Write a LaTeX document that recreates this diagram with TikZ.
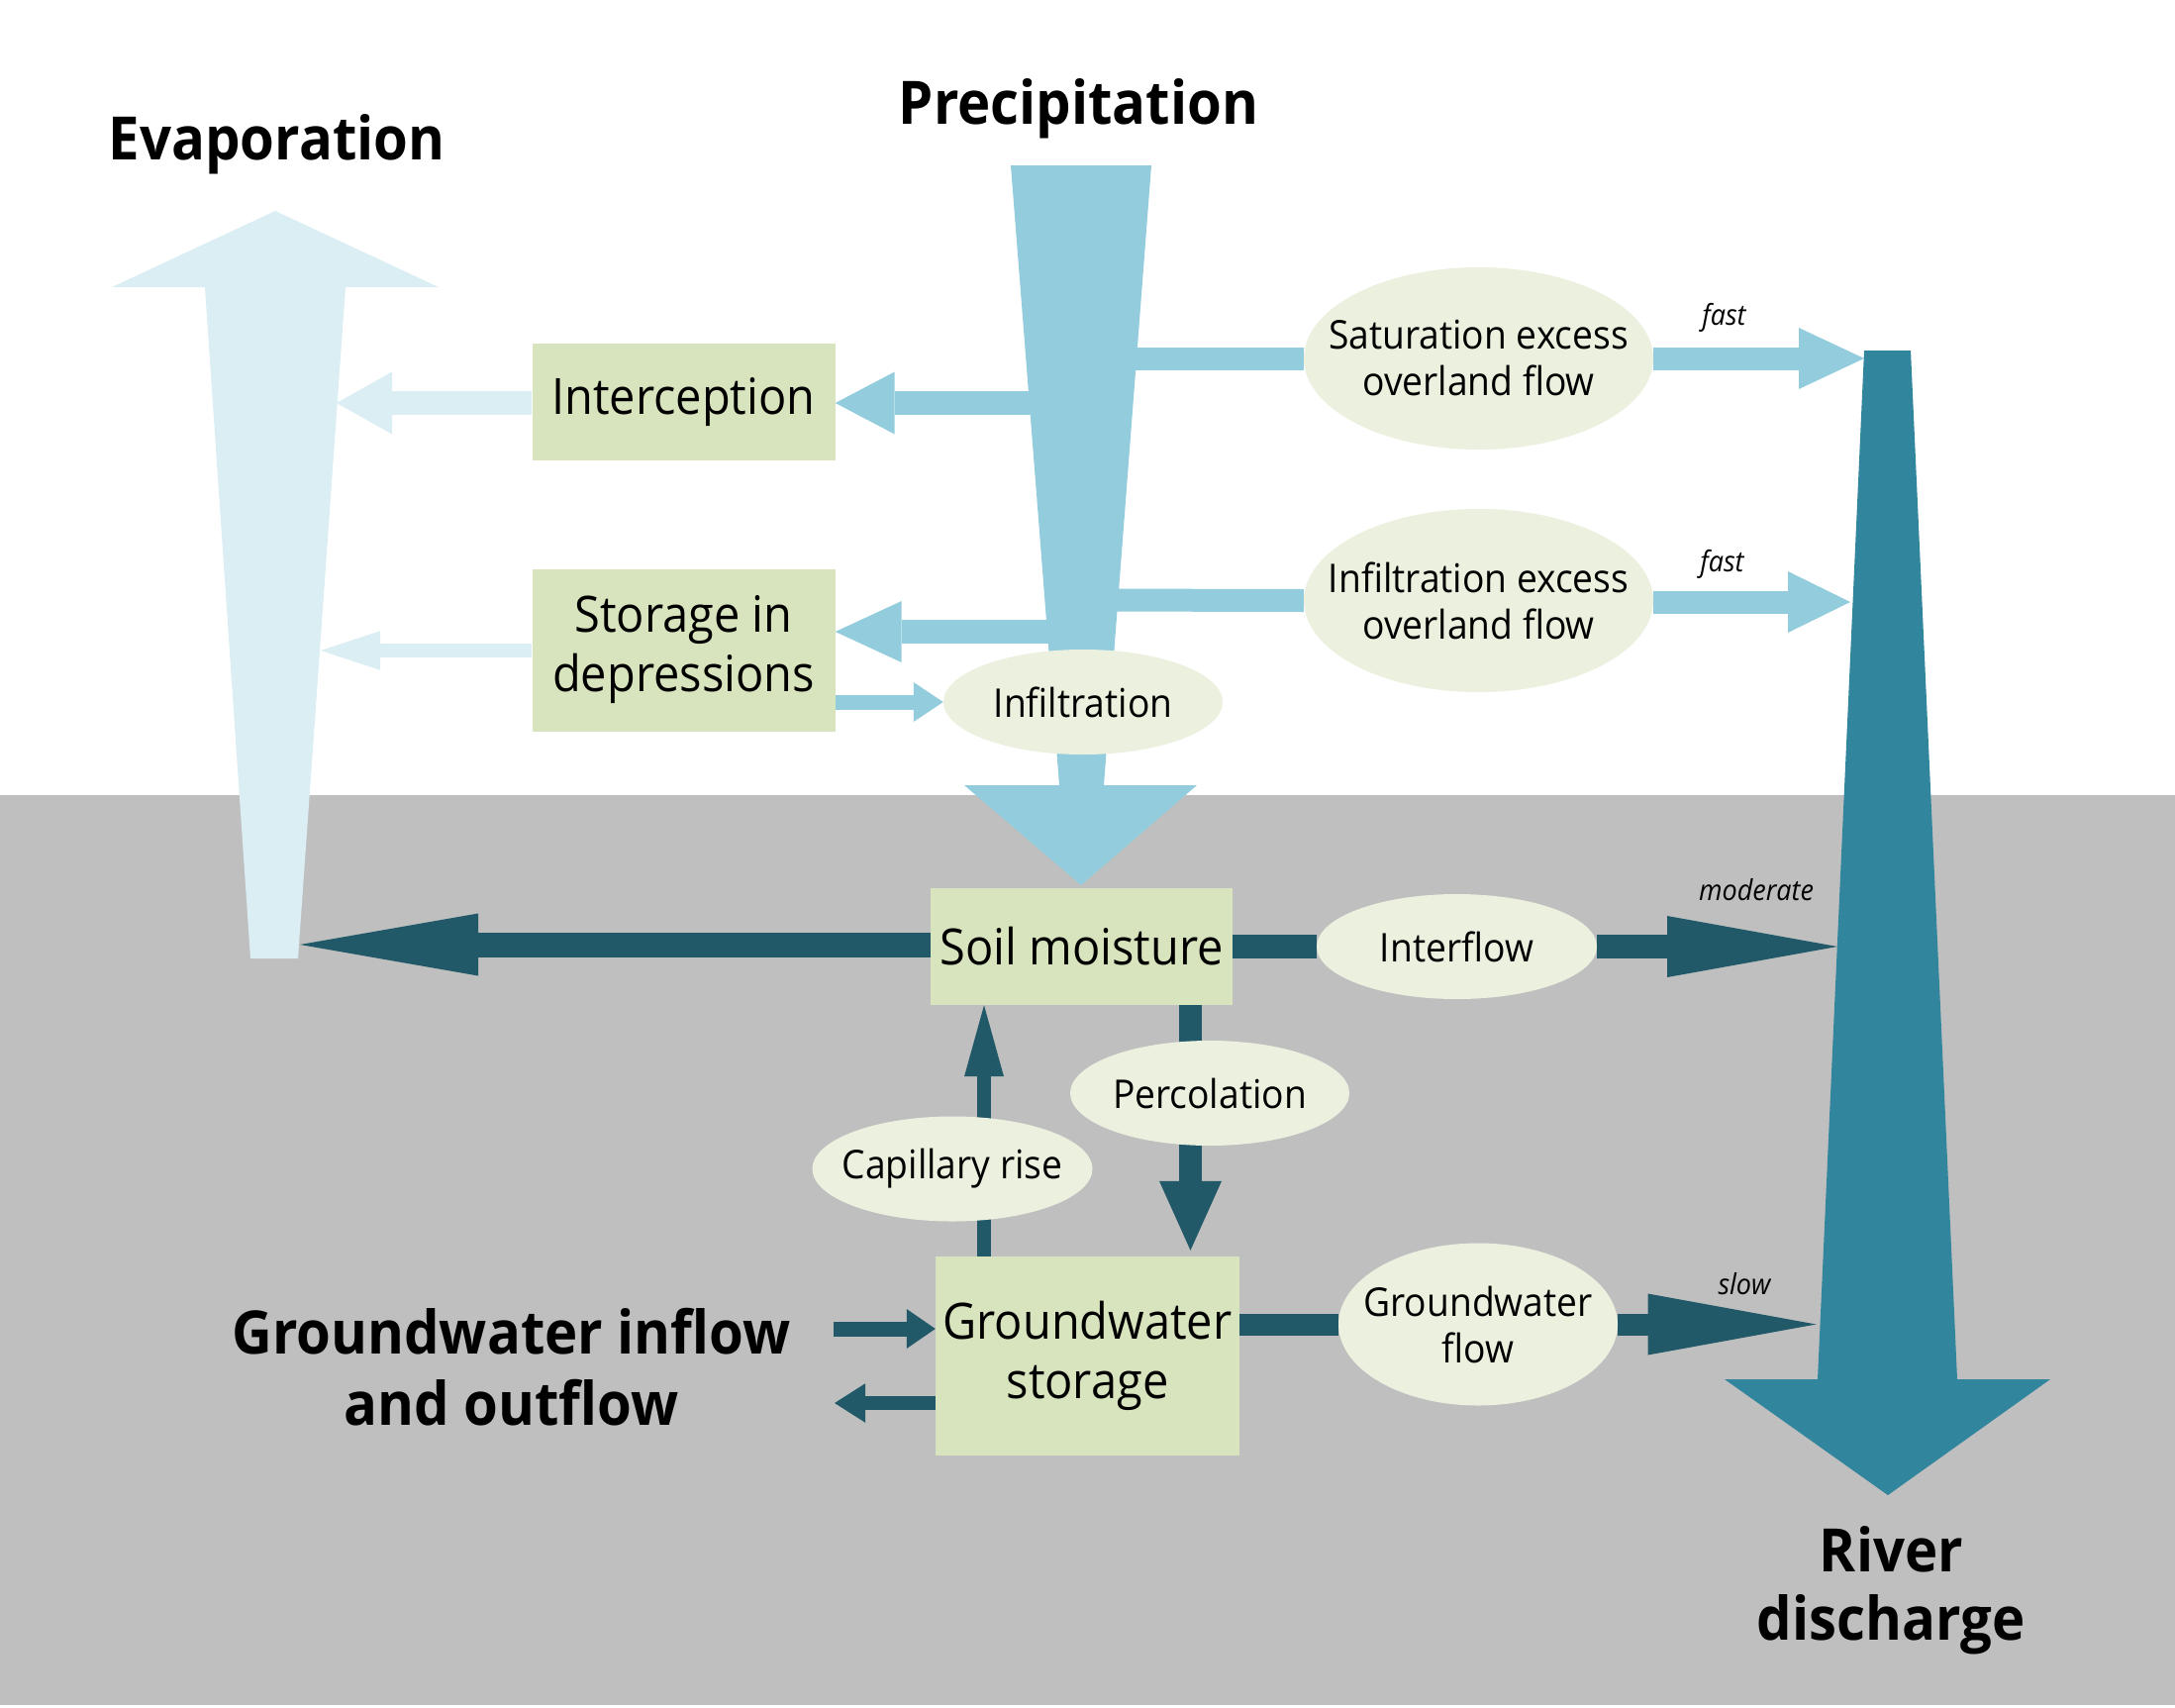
\documentclass[tikz,border=0pt]{standalone}
\usepackage{fontspec}
\setmainfont[FakeStretch=0.93]{Open Sans}
\usetikzlibrary{arrows.meta,shapes.geometric}
\definecolor{groundc}{HTML}{BFBFBF}
\definecolor{evapc}{HTML}{DAEEF3}
\definecolor{precc}{HTML}{93CDDD}
\definecolor{riverc}{HTML}{31859C}
\definecolor{darkc}{HTML}{215968}
\definecolor{boxc}{HTML}{D7E4BD}
\definecolor{ellc}{HTML}{EBF1DE}
\newcommand\myTitle{\bfseries\fontsize{60.5}{72}\selectfont}
\newcommand\myBox{\fontsize{50.5}{60}\selectfont}
\newcommand\myEll{\fontsize{40}{47}\selectfont}
\newcommand\mySmall{\itshape\fontsize{29}{35}\selectfont}
\pgfdeclarelayer{back}
\pgfdeclarelayer{flow}
\pgfsetlayers{back,flow,main}
\tikzset{
  boxnode/.style={rectangle, fill=boxc, inner sep=0pt, font=\myBox, align=center},
  ellnode/.style={ellipse, fill=ellc, inner sep=0pt},
  elltext/.style={font=\myEll, align=center},
  title/.style={font=\myTitle, anchor=base},
  speed/.style={font=\mySmall, anchor=base},
  pflow/.style={draw=precc},
  eflow/.style={draw=evapc},
  dflow/.style={draw=darkc},
}
\newcommand\tip[2]{-{Triangle[length=#1pt,width=#2pt,line width=0pt]}}
\begin{document}
\begin{tikzpicture}[x=1pt,y=-1pt]
\useasboundingbox (0,0) rectangle (2197,1724);
\begin{pgfonlayer}{back}
  \fill[white] (0,0) rectangle (2197,1724);
  \fill[groundc] (0,803) rectangle (2197,1722);
\end{pgfonlayer}

% titles
\node[title] (tEvap) at (279.5,161) {Evaporation};
\node[title] (tPrec) at (1089.5,125) {Precipitation};
\node[title] (tGw1) at (516.6,1367) {Groundwater inflow};
\node[title] (tGw2) at (516.6,1439) {and outflow};
\node[title] (tRiv1) at (1910.5,1587) {River};
\node[title] (tRiv2) at (1910,1656) {discharge};

% boxes
\node[boxnode, minimum width=306pt, minimum height=118pt] (intc) at (690.5,406) {Interception};
\node[boxnode, minimum width=306pt, minimum height=164pt] (stor) at (690.5,656.5) {Storage in\\depressions};
\node[boxnode, minimum width=305pt, minimum height=118pt] (soil) at (1092.5,956) {Soil moisture};
\node[boxnode, minimum width=307pt, minimum height=201pt] (gw) at (1098.5,1369.5) {Groundwater\\storage};

% ellipses
\node[ellnode, minimum width=282pt, minimum height=106pt, label={[elltext]center:Infiltration}] (infil) at (1094,709) {};
\node[ellnode, minimum width=353pt, minimum height=184pt, label={[elltext]center:Saturation excess\\overland flow}] (sat) at (1493.5,362) {};
\node[ellnode, minimum width=353pt, minimum height=185pt, label={[elltext]center:Infiltration excess\\overland flow}] (infx) at (1493.5,606.5) {};
\node[ellnode, minimum width=283pt, minimum height=106pt, label={[elltext]center:Interflow}] (inter) at (1471.5,956) {};
\node[ellnode, minimum width=282pt, minimum height=106pt, label={[elltext]center:Percolation}] (perc) at (1222,1104) {};
\node[ellnode, minimum width=283pt, minimum height=106pt, label={[elltext]center:Capillary rise}] (cap) at (962,1180.5) {};
\node[ellnode, minimum width=282pt, minimum height=164pt, label={[elltext]center:Groundwater\\flow}] (gwf) at (1493,1337.5) {};

% speed labels
\node[speed] (lf1) at (1741.5,328) {fast};
\node[speed] (lf2) at (1739.5,577) {fast};
\node[speed] (lmod) at (1774,909) {moderate};
\node[speed] (lslow) at (1762,1307) {slow};

% free ends
\coordinate (pI) at (1100,407);
\coordinate (pS) at (1100,638);
\coordinate (pSat) at (1120,362);
\coordinate (pInf) at (1100,606);
\coordinate (rSat) at (1883,362);
\coordinate (rInf) at (1869,608);
\coordinate (eI) at (340,407);
\coordinate (eS) at (324,657);
\coordinate (eSoil) at (303,954);
\coordinate (rSoil) at (1856,956);
\coordinate (rGw) at (1834.5,1337.5);
\coordinate (gin) at (842,1342);
\coordinate (gout) at (843,1417);
\coordinate (pcx) at (1202.5,0);
\coordinate (cpx) at (994,0);

\begin{pgfonlayer}{flow}
  % big funnels
  \fill[evapc] (253,968) -- (207,290) -- (113,290) -- (278,213) -- (443,290) -- (349,290) -- (301,968) -- cycle;
  \fill[precc] (1021,167) -- (1163,167) -- (1115,793) -- (1209,793) -- (1092,894) -- (974,793) -- (1070,793) -- cycle;
  \fill[riverc] (1883,354) -- (1930,354) -- (1977,1393) -- (2071,1393) -- (1907,1510) -- (1742,1393) -- (1836,1393) -- cycle;

  % precipitation branches
  \draw[pflow, line width=24pt, \tip{60}{63}] (pI) -- (intc.east |- pI);
  \draw[pflow, line width=24pt, \tip{67}{62}] (pS) -- (stor.east |- pS);
  \draw[pflow, line width=15pt, \tip{30}{40}] (stor.east |- infil.west) -- (infil.west);
  \draw[pflow, line width=23pt] (pSat) -- (sat.west);
  \draw[pflow, line width=23pt, \tip{66}{62}] (sat.east) -- (rSat);
  \draw[pflow, line width=23pt] (pInf) -- (infx.west);
  \draw[pflow, line width=23pt, \tip{63}{62}] (infx.east |- rInf) -- (rInf);

  % evaporation branches
  \draw[eflow, line width=24pt, \tip{56}{63}] (intc.west |- eI) -- (eI);
  \draw[eflow, line width=14.5pt, \tip{60}{39.5}] (stor.west |- eS) -- (eS);

  % subsurface
  \draw[dflow, line width=25pt, \tip{180}{63}] (soil.west |- eSoil) -- (eSoil);
  \draw[dflow, line width=24pt] (soil.east) -- (inter.west);
  \draw[dflow, line width=24pt, \tip{172}{62}] (inter.east) -- (rSoil);
  \draw[dflow, line width=23.5pt] (soil.south -| pcx) -- (perc.center -| pcx);
  \draw[dflow, line width=23.5pt, \tip{70}{63}, shorten >=6pt] (perc.center -| pcx) -- (gw.north -| pcx);
  \draw[dflow, line width=14.5pt] (gw.north -| cpx) -- (cap.center -| cpx);
  \draw[dflow, line width=14.5pt, \tip{72}{40}] (cap.center -| cpx) -- (soil.south -| cpx);
  \draw[dflow, line width=22pt] (gw.east |- gwf.west) -- (gwf.west);
  \draw[dflow, line width=22pt, \tip{170}{62}] (gwf.east) -- (rGw);
  \draw[dflow, line width=15pt, \tip{29}{40}] (gin) -- (gw.west |- gin);
  \draw[dflow, line width=14pt, \tip{31}{39.5}] (gw.west |- gout) -- (gout);
\end{pgfonlayer}
\end{tikzpicture}
\end{document}
